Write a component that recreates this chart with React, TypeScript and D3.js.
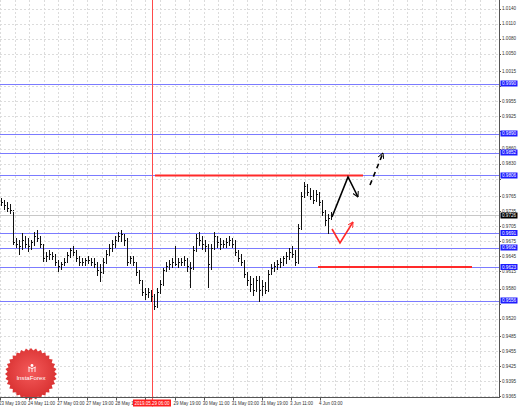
import React from 'react';
import * as d3 from 'd3';

const W = 518;
const H = 407;

const priceTicks = [1.0140, 1.0110, 1.0080, 1.0050, 1.0015, 0.9985, 0.9955, 0.9925, 0.9895, 0.9860, 0.9830, 0.9800, 0.9765, 0.9735, 0.9705, 0.9675, 0.9645, 0.9615, 0.9580, 0.9550, 0.9520, 0.9485, 0.9455, 0.9425, 0.9395, 0.9365];
const levelLines = [0.9990, 0.9890, 0.9852, 0.9806, 0.9691, 0.9662, 0.9623, 0.9556];
const currentPrice = 0.9726;
const timeLabels = ['23 May 19:00', '24 May 11:00', '27 May 03:00', '27 May 19:00', '28 May 11:00', '29 May 03:00', '29 May 19:00', '30 May 11:00', '31 May 03:00', '31 May 19:00', '3 Jun 11:00', '4 Jun 03:00'];

const firstOpen = 0.9759;
const highs = [0.9761, 0.9757, 0.9753, 0.9749, 0.9733, 0.9681, 0.9677, 0.9691, 0.9685, 0.9681, 0.9677, 0.9693, 0.9697, 0.9685, 0.9669, 0.9653, 0.9657, 0.9653, 0.9649, 0.9637, 0.9633, 0.9641, 0.9653, 0.9661, 0.9665, 0.9657, 0.9645, 0.9641, 0.9641, 0.9645, 0.9641, 0.9641, 0.9633, 0.9629, 0.9641, 0.9657, 0.9669, 0.9677, 0.9685, 0.9693, 0.9697, 0.9689, 0.9681, 0.9645, 0.9645, 0.9633, 0.9617, 0.9597, 0.9581, 0.9581, 0.9577, 0.9569, 0.9581, 0.9597, 0.9621, 0.9633, 0.9637, 0.9641, 0.9665, 0.9641, 0.9641, 0.9645, 0.9641, 0.9633, 0.9665, 0.9689, 0.9693, 0.9685, 0.9677, 0.9669, 0.9669, 0.9693, 0.9685, 0.9681, 0.9677, 0.9681, 0.9685, 0.9681, 0.9677, 0.9657, 0.9649, 0.9637, 0.9613, 0.9605, 0.9601, 0.9605, 0.9605, 0.9597, 0.9593, 0.9617, 0.9629, 0.9633, 0.9637, 0.9641, 0.9645, 0.9653, 0.9661, 0.9665, 0.9657, 0.9709, 0.9773, 0.9793, 0.9789, 0.9781, 0.9777, 0.9777, 0.9773, 0.9757, 0.9737, 0.9729, 0.9733];
const lows = [0.9745, 0.9737, 0.9733, 0.9729, 0.9667, 0.9661, 0.9647, 0.9657, 0.9661, 0.9653, 0.9657, 0.9665, 0.9673, 0.9661, 0.9633, 0.9633, 0.9637, 0.9637, 0.9625, 0.9613, 0.9617, 0.9625, 0.9633, 0.9641, 0.9645, 0.9633, 0.9625, 0.9625, 0.9625, 0.9629, 0.9625, 0.9621, 0.9605, 0.9593, 0.9609, 0.9629, 0.9645, 0.9653, 0.9661, 0.9673, 0.9673, 0.9665, 0.9625, 0.9629, 0.9625, 0.9605, 0.9589, 0.9565, 0.9557, 0.9561, 0.9553, 0.9537, 0.9541, 0.9569, 0.9585, 0.9613, 0.9617, 0.9621, 0.9625, 0.9621, 0.9625, 0.9625, 0.9613, 0.9581, 0.9617, 0.9653, 0.9665, 0.9657, 0.9653, 0.9581, 0.9617, 0.9657, 0.9661, 0.9657, 0.9661, 0.9661, 0.9665, 0.9661, 0.9645, 0.9633, 0.9625, 0.9601, 0.9585, 0.9573, 0.9565, 0.9573, 0.9553, 0.9565, 0.9569, 0.9573, 0.9609, 0.9613, 0.9617, 0.9621, 0.9625, 0.9629, 0.9637, 0.9641, 0.9625, 0.9629, 0.9697, 0.9761, 0.9765, 0.9757, 0.9749, 0.9753, 0.9745, 0.9725, 0.9705, 0.9689, 0.9717];
const closes = [0.9753, 0.9747, 0.9741, 0.9737, 0.9673, 0.9669, 0.9665, 0.9677, 0.9669, 0.9665, 0.9673, 0.9685, 0.9681, 0.9669, 0.9641, 0.9645, 0.9649, 0.9645, 0.9633, 0.9625, 0.9629, 0.9633, 0.9647, 0.9657, 0.9653, 0.9641, 0.9633, 0.9633, 0.9637, 0.9637, 0.9633, 0.9629, 0.9617, 0.9613, 0.9633, 0.9649, 0.9661, 0.9669, 0.9677, 0.9685, 0.9689, 0.9677, 0.9633, 0.9641, 0.9633, 0.9613, 0.9597, 0.9573, 0.9569, 0.9573, 0.9565, 0.9545, 0.9573, 0.9589, 0.9617, 0.9625, 0.9629, 0.9633, 0.9629, 0.9633, 0.9633, 0.9637, 0.9625, 0.9621, 0.9657, 0.9681, 0.9677, 0.9669, 0.9665, 0.9629, 0.9661, 0.9685, 0.9673, 0.9669, 0.9669, 0.9673, 0.9677, 0.9669, 0.9653, 0.9641, 0.9633, 0.9609, 0.9597, 0.9589, 0.9577, 0.9597, 0.9577, 0.9585, 0.9577, 0.9609, 0.9621, 0.9625, 0.9629, 0.9633, 0.9641, 0.9645, 0.9653, 0.9649, 0.9633, 0.9701, 0.9765, 0.9785, 0.9773, 0.9765, 0.9757, 0.9769, 0.9753, 0.9733, 0.9717, 0.9721, 0.9726];

const markerBar = 50.33;
const markerLabel = '2019.05.29 06:00';
const resistance = { price: 0.9806, from: 51.33, to: 120.67 };
const support = { price: 0.9623, from: 105.67, to: 157 };
const blackPath: [number, number][] = [[110.33, 0.9723], [115.67, 0.9803], [119, 0.9763]];
const blackDashed: [number, number][] = [[123, 0.9787], [127.33, 0.9851]];
const redPath: [number, number][] = [[110.33, 0.9699], [113, 0.9671], [117.33, 0.9713]];

const FONT = '"Liberation Sans", Arial, sans-serif';

export default function App() {
  const plotRight = 499;
  const axisY = 397.5;
  const y = d3.scaleLinear().domain([0.9365, 1.014]).range([396, 8.5]);
  const xb = d3.scaleLinear().domain([0, closes.length - 1]).range([1, 331]);
  const xt = d3.scaleLinear().domain([0, timeLabels.length - 1]).range([0, 320]);
  const fmt = d3.format('.4f');
  const line = d3.line<[number, number]>().x(d => xb(d[0])).y(d => y(d[1]));

  const vGrid: number[] = [];
  for (let k = 0; xt(k / 2) < plotRight; k++) vGrid.push(xt(k / 2));

  const boxYs = [...levelLines, currentPrice].map(v => y(v));
  const tickHidden = (t: number) => boxYs.some(by => Math.abs(by - y(t)) < 4);

  const mx = xb(markerBar);
  const labelHidden = (i: number) => {
    const x0 = xt(i) - 1;
    return x0 > mx - 19 && x0 < mx + 19;
  };

  // seal
  const N = 32;
  const cx = 31, cy = 374, ro = 26, ri = 23.5;
  const starPts: [number, number][] = [];
  for (let k = 0; k < N * 2; k++) {
    const r = k % 2 === 0 ? ro : ri;
    const a = (Math.PI * k) / N;
    starPts.push([cx + r * Math.cos(a), cy + r * Math.sin(a)]);
  }
  const star = d3.line().curve(d3.curveLinearClosed)(starPts) || '';

  return (
    <svg width={W} height={H} style={{ position: 'fixed', left: 0, top: 0, background: '#fff' }} fontFamily={FONT}>
      <defs>
        <marker id="ahB" viewBox="0 0 10 10" refX="9" refY="5" markerWidth="6" markerHeight="6" markerUnits="userSpaceOnUse" orient="auto">
          <path d="M0,0 L9,5 L0,10" fill="none" stroke="#000" strokeWidth="1.6" />
        </marker>
        <marker id="ahR" viewBox="0 0 10 10" refX="9" refY="5" markerWidth="6" markerHeight="6" markerUnits="userSpaceOnUse" orient="auto">
          <path d="M0,0 L9,5 L0,10" fill="none" stroke="#ff2a2a" strokeWidth="1.6" />
        </marker>
        <radialGradient id="sealG" cx="50%" cy="45%" r="55%">
          <stop offset="0%" stopColor="#f45a5a" />
          <stop offset="100%" stopColor="#d83030" />
        </radialGradient>
        <clipPath id="tClip">
          <rect x={0} y={axisY} width={mx - 19} height={12} />
        </clipPath>
      </defs>
      <rect x={0} y={0} width={W} height={H} fill="#fff" />
      {/* grid */}
      <g stroke="#dcdcdc" strokeWidth={1} strokeDasharray="2 2" shapeRendering="crispEdges">
        {priceTicks.map(t => (
          <line key={'h' + t} x1={0} x2={plotRight} y1={Math.round(y(t)) + 0.5} y2={Math.round(y(t)) + 0.5} />
        ))}
        {vGrid.map((x, i) => (
          <line key={'v' + i} x1={Math.round(x) + 0.5} x2={Math.round(x) + 0.5} y1={0} y2={axisY} />
        ))}
      </g>
      {/* current price line */}
      <line x1={0} x2={plotRight} y1={Math.round(y(currentPrice)) + 0.5} y2={Math.round(y(currentPrice)) + 0.5} stroke="#c8c8c8" strokeWidth={1} />
      {/* level lines */}
      {levelLines.map(l => (
        <line key={'l' + l} x1={0} x2={plotRight} y1={Math.round(y(l)) + 0.5} y2={Math.round(y(l)) + 0.5} stroke="#7b7bff" strokeWidth={1} />
      ))}
      {/* vertical red marker */}
      <line x1={Math.round(mx) + 0.5} x2={Math.round(mx) + 0.5} y1={0} y2={axisY + 9} stroke="#ff4a4a" strokeWidth={1} />
      {/* bars */}
      <g stroke="#111" strokeWidth={1} shapeRendering="crispEdges">
        {closes.map((c, i) => {
          const x = Math.round(xb(i)) + 0.5;
          const o = i === 0 ? firstOpen : closes[i - 1];
          return (
            <g key={'b' + i}>
              <line x1={x} x2={x} y1={y(highs[i])} y2={y(lows[i])} />
              <line x1={x - 1} x2={x} y1={Math.round(y(o)) + 0.5} y2={Math.round(y(o)) + 0.5} />
              <line x1={x} x2={x + 1} y1={Math.round(y(c)) + 0.5} y2={Math.round(y(c)) + 0.5} />
            </g>
          );
        })}
      </g>
      {/* red horizontal segments */}
      <line x1={xb(resistance.from)} x2={xb(resistance.to)} y1={y(resistance.price)} y2={y(resistance.price)} stroke="#ff2a2a" strokeWidth={2} />
      <line x1={xb(support.from)} x2={xb(support.to)} y1={y(support.price)} y2={y(support.price)} stroke="#ff2a2a" strokeWidth={2} />
      {/* arrows */}
      <path d={line(blackPath) || ''} fill="none" stroke="#000" strokeWidth={1.6} markerEnd="url(#ahB)" />
      <path d={line(blackDashed) || ''} fill="none" stroke="#000" strokeWidth={1.6} strokeDasharray="5 4" markerEnd="url(#ahB)" />
      <path d={line(redPath) || ''} fill="none" stroke="#ff2a2a" strokeWidth={1.6} markerEnd="url(#ahR)" />
      {/* seal */}
      <path d={star} fill="url(#sealG)" />
      <g fill="none" stroke="#fff" strokeWidth={0.9}>
        <circle cx={cx + 1} cy={cy - 8.5} r={1.4} fill="#fff" stroke="none" />
        <path d={`M${cx - 2},${cy - 6} L${cx - 2},${cy - 2} M${cx + 1},${cy - 6} L${cx + 1},${cy - 2} M${cx + 4},${cy - 6} L${cx + 4},${cy - 2} M${cx - 3},${cy - 7} Q${cx + 1},${cy - 4} ${cx + 5},${cy - 7}`} />
      </g>
      <text x={cx} y={cy + 6} fill="#fff" fontSize={6.2} textAnchor="middle">InstaForex</text>
      {/* axes */}
      <line x1={plotRight + 0.5} x2={plotRight + 0.5} y1={0} y2={axisY} stroke="#555" strokeWidth={1} />
      <line x1={0} x2={plotRight + 1} y1={axisY} y2={axisY} stroke="#555" strokeWidth={1} />
      {/* price tick labels */}
      <g fontSize={4.6} fill="#333">
        {priceTicks.map(t => (
          <g key={'pt' + t}>
            <line x1={plotRight} x2={plotRight + 2} y1={Math.round(y(t)) + 0.5} y2={Math.round(y(t)) + 0.5} stroke="#555" />
            {!tickHidden(t) && <text x={plotRight + 3} y={y(t) + 1.7}>{fmt(t)}</text>}
          </g>
        ))}
      </g>
      {/* level boxes */}
      {levelLines.map(l => (
        <g key={'lb' + l}>
          <rect x={plotRight + 1.5} y={y(l) - 3} width={17} height={6} fill="#1c1cff" />
          <text x={plotRight + 3} y={y(l) + 1.7} fontSize={4.6} fill="#fff">{fmt(l)}</text>
        </g>
      ))}
      <rect x={plotRight + 1.5} y={y(currentPrice) - 3} width={17} height={6} fill="#000" />
      <text x={plotRight + 3} y={y(currentPrice) + 1.7} fontSize={4.6} fill="#fff">{fmt(currentPrice)}</text>
      {/* time labels */}
      <g fontSize={4.5} fill="#333">
        {timeLabels.map((t, i) => (
          <g key={'t' + i}>
            <line x1={Math.round(xt(i)) + 0.5} x2={Math.round(xt(i)) + 0.5} y1={axisY} y2={axisY + 3} stroke="#555" />
            {!labelHidden(i) && (
              <text x={xt(i) - 1} y={axisY + 7} clipPath={xt(i) < mx ? 'url(#tClip)' : undefined}>{t}</text>
            )}
          </g>
        ))}
      </g>
      <rect x={mx - 19} y={axisY + 2} width={38} height={7} fill="#ff2020" />
      <text x={mx} y={axisY + 7} fontSize={4.5} fill="#fff" textAnchor="middle">{markerLabel}</text>
    </svg>
  );
}
